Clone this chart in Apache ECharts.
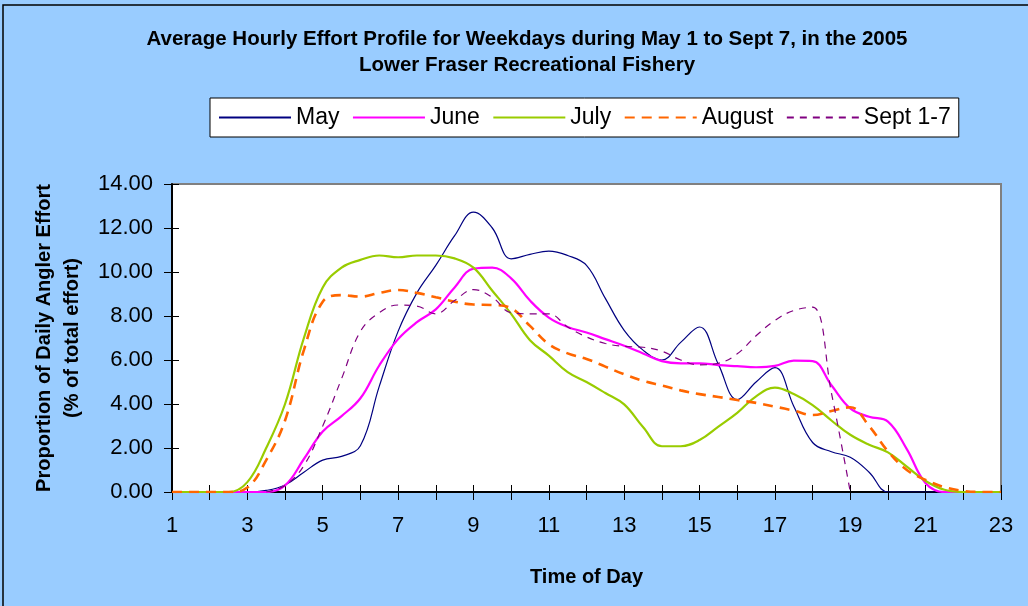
<!DOCTYPE html>
<html>
<head>
<meta charset="utf-8">
<title>Average Hourly Effort Profile</title>
<script src="https://cdn.jsdelivr.net/npm/echarts@6/dist/echarts.min.js"></script>
<style>
  body { margin: 0; background: #99ccff; }
  #main { width: 1028px; height: 606px; }
</style>
</head>
<body>
<div id="main"></div>
<script>
// time of day, every half hour
var hours = [1, 1.5, 2, 2.5, 3, 3.5, 4, 4.5, 5, 5.5, 6, 6.5, 7, 7.5, 8, 8.5, 9, 9.5, 10, 10.5,
  11, 11.5, 12, 12.5, 13, 13.5, 14, 14.5, 15, 15.5, 16, 16.5, 17, 17.5, 18, 18.5, 19, 19.5, 20, 20.5,
  21, 21.5, 22, 22.5, 23];

// % of daily angler effort
var may = [0, 0, 0, 0, 0, 0.07, 0.32, 0.9, 1.45, 1.62, 2.1, 4.8, 7.3, 9.05, 10.3,
  11.65, 12.72, 12.0, 10.6, 10.8, 10.95, 10.75, 10.3, 8.8, 7.35, 6.45, 6.0, 6.8, 7.5, 5.8,
  4.2, 5.0, 5.65, 3.9, 2.25, 1.83, 1.58, 0.9, 0, 0, 0, 0, 0, 0, 0];
var june = [0, 0, 0, 0, 0, 0, 0.3, 1.5, 2.75, 3.45, 4.26, 5.75, 6.95, 7.72, 8.3,
  9.3, 10.15, 10.2, 9.71, 8.7, 7.93, 7.5, 7.25, 6.95, 6.65, 6.3, 5.95, 5.85, 5.85, 5.77,
  5.72, 5.67, 5.73, 5.97, 5.95, 4.85, 3.8, 3.42, 3.2, 1.95, 0.4, 0, 0, 0, 0];
var july = [0, 0, 0, 0, 0.45, 2.0, 4.0, 7.0, 9.3, 10.2, 10.55, 10.75, 10.67, 10.75, 10.75,
  10.62, 10.2, 9.15, 8.1, 6.9, 6.2, 5.45, 5.0, 4.5, 3.98, 2.95, 2.08, 2.08, 2.36, 2.97,
  3.6, 4.35, 4.74, 4.45, 3.95, 3.25, 2.6, 2.15, 1.8, 1.15, 0.5, 0.1, 0, 0, 0];
var august = [0, 0, 0, 0, 0.2, 1.45, 3.25, 6.45, 8.65, 8.95, 8.88, 9.05, 9.18, 9.05, 8.85,
  8.65, 8.52, 8.5, 8.35, 7.55, 6.72, 6.3, 6.05, 5.7, 5.35, 5.05, 4.84, 4.62, 4.45, 4.32,
  4.18, 4.05, 3.88, 3.7, 3.5, 3.68, 3.85, 3.0, 1.85, 1.0, 0.55, 0.22, 0.05, 0, 0];
var sept = ['-', '-', '-', '-', '-', 0, 0.3, 1.2, 3.0, 5.15, 7.3, 8.15, 8.5, 8.45, 8.1,
  8.7, 9.2, 8.85, 8.15, 8.1, 8.1, 7.5, 7.05, 6.75, 6.62, 6.58, 6.4, 6.0, 5.78, 5.85,
  6.28, 7.1, 7.8, 8.25, 8.4, 4.5, 0, '-', '-', '-', '-', '-', '-', '-', '-'];

var xLabels = ['1', '3', '5', '7', '9', '11', '13', '15', '17', '19', '21', '23'];

function pairs(vals) {
  return hours.map(function (h, i) { return [h, vals[i]]; });
}

var myChart = echarts.init(document.getElementById('main'));

var font = 'Arial, "Liberation Sans", sans-serif';

var option = {
  backgroundColor: '#99ccff',
  textStyle: { fontFamily: font },
  animation: false,
  title: {
    text: 'Average Hourly Effort Profile for Weekdays during May 1 to Sept 7, in the 2005\nLower Fraser Recreational Fishery',
    left: 522,
    textAlign: 'center',
    top: 21,
    textStyle: { fontSize: 20.5, fontWeight: 'bold', color: '#000', lineHeight: 26, fontFamily: font }
  },
  // frame of the picture
  graphic: [{
    type: 'polyline',
    shape: { points: [[3, 606], [3, 5], [1028, 5]] },
    style: { stroke: '#000', lineWidth: 1.5, fill: null }
  }],
  legend: {
    left: 210,
    top: 98,
    padding: [8, 8, 8, 8],
    backgroundColor: '#fff',
    borderColor: '#000',
    borderWidth: 1,
    borderRadius: 0,
    itemWidth: 72,
    itemHeight: 14,
    itemGap: 12.5,
    itemStyle: { opacity: 0 },
    textStyle: { fontSize: 23, color: '#000', fontFamily: font },
    data: ['May', 'June', 'July', 'August', 'Sept 1-7']
  },
  grid: {
    left: 172,
    top: 184,
    right: 27,
    bottom: 114,
    show: true,
    backgroundColor: '#fff',
    borderColor: '#808080',
    borderWidth: 2
  },
  xAxis: [{
    type: 'value',
    min: 1,
    max: 23,
    interval: 1,
    name: 'Time of Day',
    nameLocation: 'middle',
    nameGap: 75,
    nameTextStyle: { fontSize: 20, fontWeight: 'bold', color: '#000', fontFamily: font },
    axisLine: { lineStyle: { color: '#000', width: 2 } },
    axisTick: { length: 8, lineStyle: { color: '#000' } },
    axisLabel: {
      fontSize: 22,
      color: '#000',
      margin: 23,
      formatter: function (v) {
        return xLabels.indexOf(String(v)) >= 0 ? String(v) : '';
      }
    },
    splitLine: { show: false }
  }, {
    // inner half of the crossing ticks
    type: 'value',
    min: 1,
    max: 23,
    interval: 1,
    position: 'bottom',
    axisLine: { show: false },
    axisTick: { inside: true, length: 7, lineStyle: { color: '#000' } },
    axisLabel: { show: false },
    splitLine: { show: false }
  }],
  yAxis: [{
    type: 'value',
    min: 0,
    max: 14,
    interval: 2,
    name: 'Proportion of Daily Angler Effort\n(% of total effort)',
    nameLocation: 'middle',
    nameRotate: 90,
    nameGap: 86,
    nameTextStyle: { fontSize: 20, fontWeight: 'bold', color: '#000', lineHeight: 28, fontFamily: font },
    axisLine: { show: true, lineStyle: { color: '#000', width: 2 } },
    axisTick: { show: true, length: 8, lineStyle: { color: '#000' } },
    axisLabel: {
      fontSize: 22,
      color: '#000',
      margin: 19,
      formatter: function (v) { return v.toFixed(2); }
    },
    splitLine: { show: false }
  }, {
    type: 'value',
    min: 0,
    max: 14,
    interval: 2,
    position: 'left',
    axisLine: { show: false },
    axisTick: { show: true, inside: true, length: 7, lineStyle: { color: '#000' } },
    axisLabel: { show: false },
    splitLine: { show: false }
  }],
  series: [
    {
      name: 'May', type: 'line', smooth: 0.4, symbol: 'none', data: pairs(may),
      lineStyle: { color: '#000080', width: 1.2 }, itemStyle: { color: '#000080' }
    },
    {
      name: 'June', type: 'line', smooth: 0.4, symbol: 'none', data: pairs(june),
      lineStyle: { color: '#ff00ff', width: 2.2 }, itemStyle: { color: '#ff00ff' }
    },
    {
      name: 'July', type: 'line', smooth: 0.4, symbol: 'none', data: pairs(july),
      lineStyle: { color: '#99cc00', width: 2.2 }, itemStyle: { color: '#99cc00' }
    },
    {
      name: 'August', type: 'line', smooth: 0.4, symbol: 'none', data: pairs(august),
      lineStyle: { color: '#ff6600', width: 2.6, type: [10, 7] }, itemStyle: { color: '#ff6600' }
    },
    {
      name: 'Sept 1-7', type: 'line', smooth: 0.4, symbol: 'none', data: pairs(sept),
      lineStyle: { color: '#800080', width: 1.2, type: [7, 6] }, itemStyle: { color: '#800080' }
    }
  ]
};

myChart.setOption(option);
</script>
</body>
</html>
